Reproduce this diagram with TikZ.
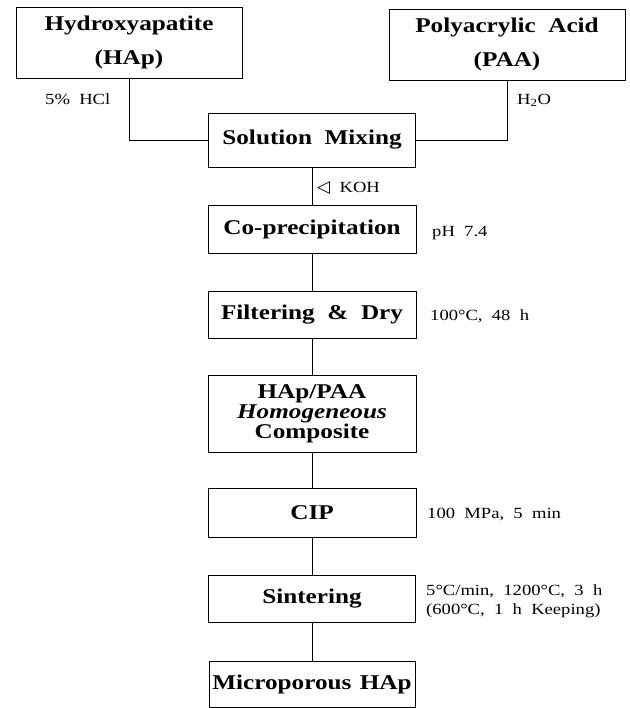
\documentclass[tikz,border=0pt]{standalone}
\usepackage{fontspec}
\setmainfont{Liberation Serif}[FakeStretch=1.2]
\newfontfamily\symfont{DejaVu Sans}
\begin{document}
\begin{tikzpicture}[x=1pt,y=-1pt,
  box/.style={draw, line width=0.9pt, inner sep=0pt, align=center,
    font=\fontsize{21}{22}\selectfont\bfseries},
  note/.style={inner sep=0pt, anchor=west, align=left,
    font=\fontsize{15.5}{19}\selectfont},
  link/.style={line width=0.8pt}]
\useasboundingbox (0,0) rectangle (629,708);
\node[box, minimum width=226pt, minimum height=71pt] (hap) at (129,42.5) {Hydroxyapatite\\[12pt](HAp)};
\node[box, minimum width=236pt, minimum height=71pt] (paa) at (507,44.5) {Polyacrylic\ \ Acid\\[12pt](PAA)};
\node[box, minimum width=207pt, minimum height=54pt] (mix) at (312,140) {Solution\ \ Mixing};
\node[box, minimum width=208pt, minimum height=48pt] (cop) at (312,229) {Co-precipitation};
\node[box, minimum width=208pt, minimum height=47pt] (fil) at (312,314.5) {Filtering\ \ \&\ \ Dry};
\node[box, minimum width=208pt, minimum height=77pt] (comp) at (312,413.5) {HAp/PAA\\[-2pt]\textit{Homogeneous}\\[-2pt]Composite};
\node[box, minimum width=208pt, minimum height=49pt] (cip) at (312,512.5) {CIP};
\node[box, minimum width=207pt, minimum height=47pt] (sin) at (312,598.5) {Sintering};
\node[box, minimum width=206pt, minimum height=46pt] (mic) at (312,684) {Microporous\hspace{0.4em}HAp};

\draw[link] (hap.south) |- (mix.west);
\draw[link] (paa.south) |- (mix.east);
\draw[link] (mix) -- (cop);
\draw[link] (cop) -- (fil);
\draw[link] (fil) -- (comp);
\draw[link] (comp) -- (cip);
\draw[link] (cip) -- (sin);
\draw[link] (sin) -- (mic);

\node[note] (hcl) at (45,99) {5\%\ \ HCl};
\node[note] (h2o) at (517,100) {H\textsubscript{2}O};
\node[note] (koh) at (317,188) {{\symfont\fontsize{17}{17}\selectfont ◁}\ \ KOH};
\node[note] (ph) at (432,233) {pH\ \ 7.4};
\node[note] (dry) at (430,316) {100°C,\ \ 48\ \ h};
\node[note] (cipn) at (427,515) {100\ \ MPa,\ \ 5\ \ min};
\node[note] (sinn) at (426,601) {5°C/min,\ \ 1200°C,\ \ 3\ \ h\\(600°C,\ \ 1\ \ h\ \ Keeping)};
\end{tikzpicture}
\end{document}
